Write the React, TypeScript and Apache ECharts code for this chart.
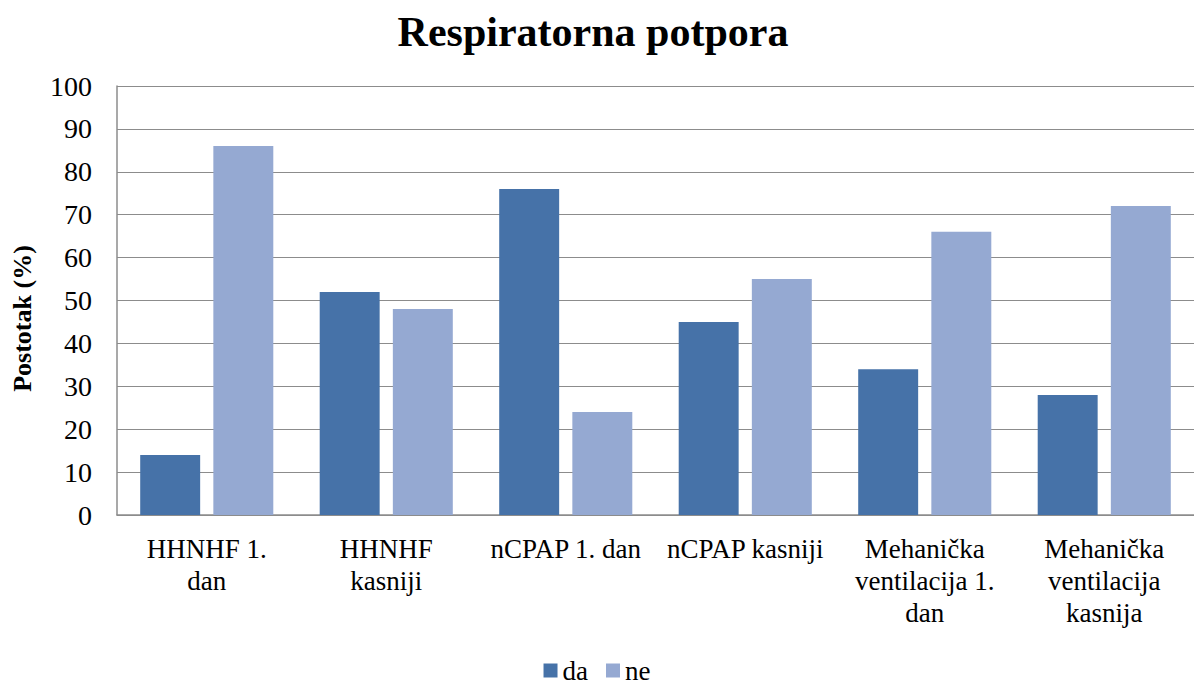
import React, { useEffect, useRef } from "react";
import * as echarts from "echarts";

const categories = [
  "HHNHF 1.\ndan",
  "HHNHF\nkasniji",
  "nCPAP 1. dan",
  "nCPAP kasniji",
  "Mehanička\nventilacija 1.\ndan",
  "Mehanička\nventilacija\nkasnija",
];
const daValues = [14, 52, 76, 45, 34, 28];
const neValues = [86, 48, 24, 55, 66, 72];
const seriesNames = ["da", "ne"];

const FONT = "Liberation Serif";

export default function App() {
  const ref = useRef<HTMLDivElement>(null);
  useEffect(() => {
    if (!ref.current) return;
    const chart = echarts.init(ref.current, undefined, { renderer: "svg" });
    chart.setOption({
      animation: false,
      backgroundColor: "#ffffff",
      title: {
        text: "Respiratorna potpora",
        left: 588,
        textAlign: "center",
        top: 6,
        textStyle: { fontFamily: FONT, fontSize: 42, fontWeight: "bold", color: "#000" },
      },
      legend: {
        top: 657,
        left: "center",
        padding: 0,
        itemWidth: 14,
        itemHeight: 14,
        itemGap: 18,
        icon: "rect",
        textStyle: { fontFamily: FONT, fontSize: 27, color: "#000" },
        data: seriesNames,
      },
      grid: { left: 117, right: 0, top: 86, bottom: 169, containLabel: false },
      xAxis: {
        type: "category",
        data: categories,
        axisLine: { show: true, lineStyle: { color: "#8c8c8c", width: 1.5 } },
        axisTick: { show: false },
        axisLabel: {
          interval: 0,
          margin: 18,
          fontFamily: FONT,
          fontSize: 27,
          lineHeight: 32,
          color: "#000",
        },
      },
      yAxis: {
        type: "value",
        min: 0,
        max: 100,
        interval: 10,
        name: "Postotak (%)",
        nameLocation: "middle",
        nameGap: 82,
        nameRotate: 90,
        nameTextStyle: {
          fontFamily: FONT,
          fontSize: 26,
          fontWeight: "bold",
          color: "#000",
          padding: [0, 36, 0, 0],
        },
        axisLine: { show: true, lineStyle: { color: "#8c8c8c", width: 1.5 } },
        axisTick: { show: false },
        splitLine: { show: true, lineStyle: { color: "#8c8c8c", width: 1.2 } },
        axisLabel: { margin: 25, fontFamily: FONT, fontSize: 28, color: "#000" },
      },
      series: [
        {
          name: seriesNames[0],
          type: "bar",
          data: daValues,
          barWidth: "33.4%",
          barGap: "22%",
          itemStyle: { color: "#4672a8" },
        },
        {
          name: seriesNames[1],
          type: "bar",
          data: neValues,
          barWidth: "33.4%",
          barGap: "22%",
          itemStyle: { color: "#95a9d2" },
        },
      ],
    });
    return () => chart.dispose();
  }, []);
  return (
    <div
      ref={ref}
      style={{ position: "fixed", left: 0, top: 0, width: 1194, height: 684 }}
    />
  );
}
